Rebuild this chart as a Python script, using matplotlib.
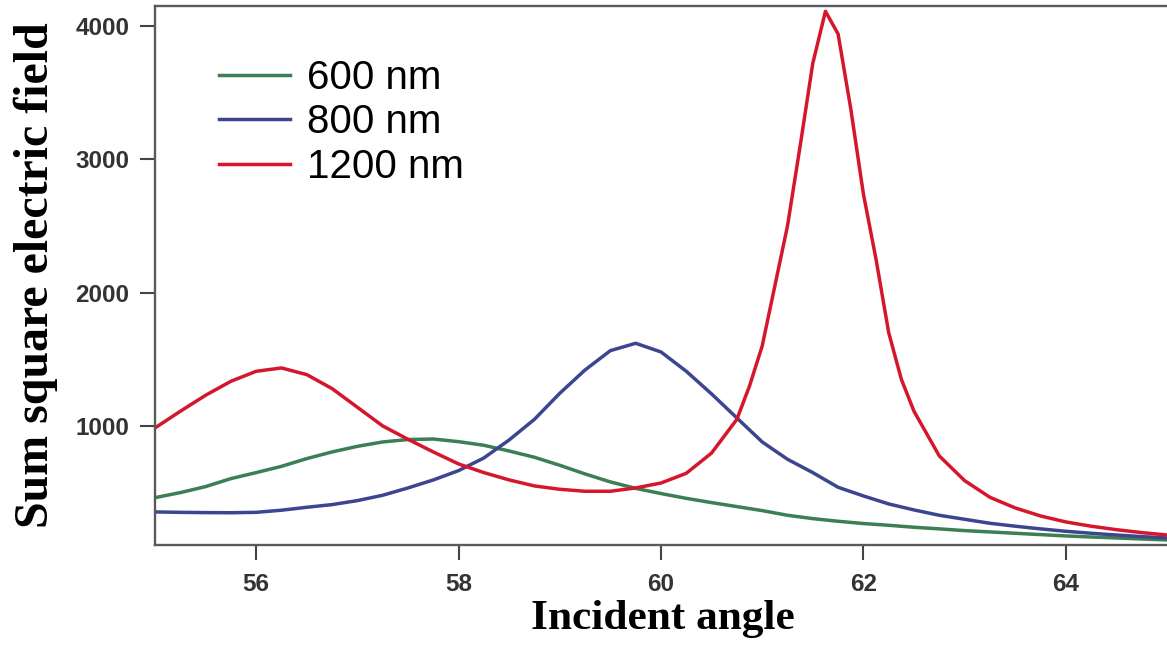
# Summed squared electric field vs incident angle for three wavelengths

import numpy as np
import matplotlib
matplotlib.use("Agg")
import matplotlib.pyplot as plt

# common 0.25 deg grid for the 600 and 800 nm curves
angle = np.arange(55.0, 65.01, 0.25)

field_600 = [
    462, 500, 545, 605, 650, 697, 755, 805, 847, 880, 898,
    902, 882, 855, 812, 765, 705, 640, 580, 532, 493,
    457, 425, 395, 365, 330, 305, 285, 268, 255, 240,
    228, 215, 205, 195, 185, 175, 167, 160, 152, 145,
]

field_800 = [
    355, 352, 350, 349, 352, 368, 390, 410, 440, 480, 535,
    595, 665, 760, 895, 1050, 1245, 1420, 1565, 1620, 1555,
    1410, 1240, 1060, 880, 750, 650, 540, 475, 415, 370,
    330, 300, 270, 248, 228, 210, 195, 182, 170, 160,
]

# 1200 nm is sampled finer around the sharp resonance
angle_1200 = [
    55.0, 55.25, 55.5, 55.75, 56.0, 56.25, 56.5, 56.75, 57.0, 57.25,
    57.5, 57.75, 58.0, 58.25, 58.5, 58.75, 59.0, 59.25, 59.5, 59.75,
    60.0, 60.25, 60.5, 60.75, 60.875, 61.0, 61.125, 61.25, 61.375, 61.5,
    61.625, 61.75, 61.875, 62.0, 62.125, 62.25, 62.375, 62.5, 62.75, 63.0,
    63.25, 63.5, 63.75, 64.0, 64.25, 64.5, 64.75, 65.0,
]

field_1200 = [
    985, 1110, 1230, 1335, 1410, 1435, 1385, 1280, 1140, 1000,
    900, 805, 715, 650, 595, 550, 525, 510, 510, 535,
    572, 645, 797, 1050, 1300, 1600, 2050, 2500, 3100, 3720,
    4110, 3940, 3380, 2740, 2250, 1700, 1350, 1110, 775, 590,
    465, 385, 325, 280, 248, 222, 200, 182,
]

labels = ["600 nm", "800 nm", "1200 nm"]
colors = ["#3b7f52", "#3c4690", "#d5172e"]


def main():
    fig = plt.figure(figsize=(11.67, 6.56), dpi=100)
    ax = fig.add_axes([0.1328, 0.1692, 0.8672, 0.8217])

    ax.plot(angle, field_600, color=colors[0], lw=2.5, label=labels[0])
    ax.plot(angle, field_800, color=colors[1], lw=2.5, label=labels[1])
    ax.plot(angle_1200, field_1200, color=colors[2], lw=2.5, label=labels[2])

    ax.set_xlim(55, 65)
    ax.set_ylim(107, 4150)
    ax.set_xticks([56, 58, 60, 62, 64])
    ax.set_yticks([1000, 2000, 3000, 4000])

    for side in ["left", "bottom", "top"]:
        ax.spines[side].set_color("#5a5a5a")
        ax.spines[side].set_linewidth(1.7)
    ax.spines["right"].set_visible(False)

    ax.tick_params(direction="out", length=10.5, width=1.5, color="#444444",
                   labelsize=17.5, labelcolor="#333333")
    ax.tick_params(axis="x", pad=9.5)
    ax.tick_params(axis="y", pad=8)
    for lab in ax.get_xticklabels() + ax.get_yticklabels():
        lab.set_fontweight("bold")
        lab.set_family("Liberation Sans")

    ax.set_xlabel("Incident angle", family="Liberation Serif",
                  fontweight="bold", fontsize=31.2)
    ax.set_ylabel("Sum square electric field", family="Liberation Serif",
                  fontweight="bold", fontsize=34.5)
    ax.xaxis.set_label_coords(0.502, -0.102)
    ax.yaxis.set_label_coords(-0.096, 0.5)

    ax.legend(loc="upper left", frameon=False, handlelength=1.76,
              handletextpad=0.42, labelspacing=0.165,
              borderpad=0, borderaxespad=0,
              bbox_to_anchor=(0.0632, 0.902),
              prop={"family": "Liberation Sans", "size": 29})

    fig.savefig("out.png", dpi=100)


if __name__ == "__main__":
    main()
